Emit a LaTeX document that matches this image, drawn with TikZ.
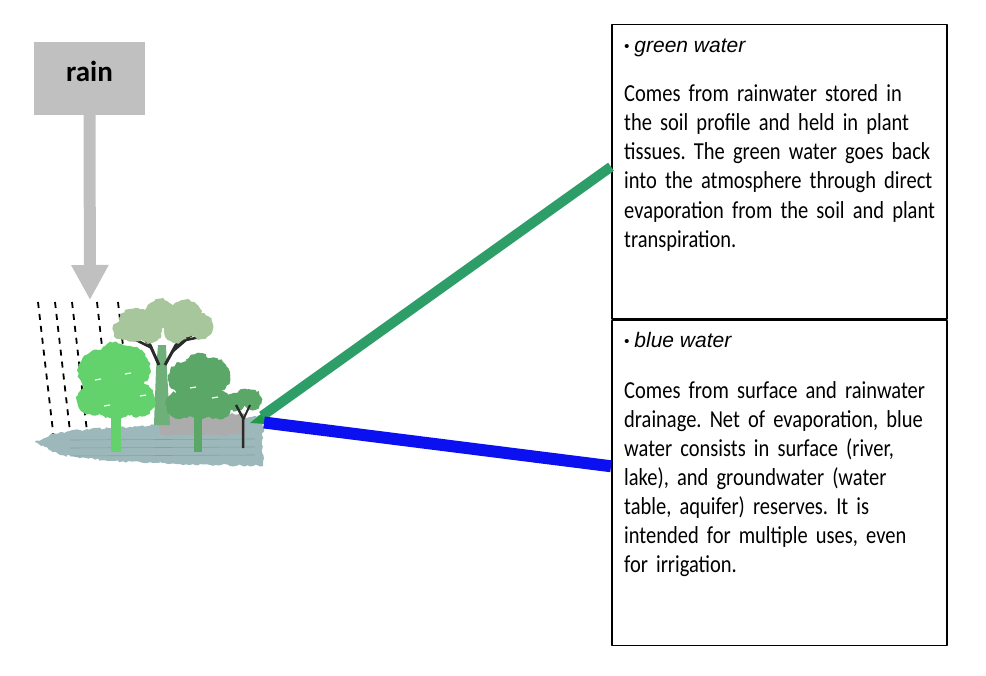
\documentclass[tikz,border=0pt]{standalone}
\usepackage{fontspec}
\setmainfont{Carlito}
\newfontfamily\arialfont{Liberation Sans}
\newfontfamily\bodyfont[FakeStretch=0.84,WordSpace=0.8]{Carlito}
\usetikzlibrary{arrows.meta,decorations.pathmorphing}
\definecolor{raingray}{HTML}{C0C0C0}
\definecolor{soil}{HTML}{9DB8BB}
\definecolor{soilline}{HTML}{86A1A4}
\definecolor{paleleaf}{HTML}{A7C69B}
\definecolor{lightleaf}{HTML}{63D26C}
\definecolor{darkleaf}{HTML}{5BA768}
\definecolor{trunkgreen}{HTML}{6FB07A}
\definecolor{bark}{HTML}{2A2A2A}
\definecolor{wedge}{HTML}{1F9A45}
\definecolor{greenline}{HTML}{2E9E68}
\definecolor{blueline}{HTML}{0A10F0}
\newcommand{\dotmark}{\raisebox{1bp}{\fontsize{15bp}{15bp}\selectfont •}\hspace{5bp}}
\frenchspacing
\begin{document}
\begin{tikzpicture}[x=1bp,y=-1bp, line join=round,
	rainbox/.style={fill=raingray, minimum width=111bp, minimum height=73bp, inner sep=0pt, text height=20bp, text depth=13bp, font=\fontsize{29bp}{29bp}\selectfont\bfseries},
	infobox/.style={draw, line width=1.5bp, anchor=north west, minimum width=335bp, inner sep=0pt},
	infotitle/.style={anchor=base west, inner sep=0pt, font=\arialfont\itshape\fontsize{21bp}{25bp}\selectfont},
	infotext/.style={anchor=base west, inner sep=0pt, text width=325bp, align=left, font=\bodyfont\fontsize{24.4bp}{29bp}\selectfont},
	crown/.style={decorate, decoration={random steps, segment length=2.5pt, amplitude=1.2pt}}]
	\useasboundingbox (0,0) rectangle (986,676);
	% rain
	\node[rainbox] (rain) at (89.5,78.5) {rain};
	\coordinate (raintip) at (90,300);
	\draw[raingray, line width=12bp, -{Triangle[length=35bp,width=35bp]}] (rain.south) -- (raintip);
	\foreach \xa/\xb/\yb in {38/54/440, 55/71/440, 72/88/440, 97/108/400, 118/128/390}
		\draw[line width=1.8bp, dash pattern=on 6bp off 6bp] (\xa,302) -- (\xb,\yb);
	% ground
	\fill[soil, crown] (35,442) -- (52,434) -- (80,430) -- (140,426) -- (200,422) -- (263,416) -- (263,466) -- (180,464) -- (110,461) -- (60,455) -- (45,447) -- cycle;
	\foreach \y in {440,448,456}
		\draw[soilline, line width=.6bp] (70,\y) -- (255,\y-1);
	\fill[gray!65, crown] (160,414) rectangle (245,435);
	% tall tree
	\fill[trunkgreen] (154,425) -- (156,370) -- (158,345) -- (166,345) -- (167,370) -- (170,425) -- cycle;
	\draw[bark, line width=3bp] (159,365) -- (150,345) -- (140,334);
	\draw[bark, line width=2.5bp] (152,348) -- (132,338);
	\draw[bark, line width=3bp] (165,365) -- (176,345) -- (193,334);
	\draw[bark, line width=2.5bp] (172,352) -- (186,340) -- (205,336);
	\foreach \c/\r in {(135,325)/17, (160,314)/15, (185,318)/18, (200,326)/13, (150,331)/12, (176,331)/12, (122,330)/9}
		\fill[paleleaf, crown] \c circle (\r);
	% left tree
	\fill[lightleaf] (111,410) rectangle (121,452);
	\foreach \c/\r in {(100,372)/22, (128,368)/22, (114,356)/14, (92,400)/15, (138,400)/17, (115,395)/24}
		\fill[lightleaf, crown] \c circle (\r);
	% middle tree
	\fill[darkleaf] (194,415) rectangle (202,452);
	\foreach \c/\r in {(184,378)/16, (212,376)/18, (198,366)/13, (180,405)/14, (218,405)/14, (199,397)/22}
		\fill[darkleaf, crown] \c circle (\r);
	\foreach \p in {(95,380),(125,374),(140,396),(104,406),(190,388),(212,398)}
		\draw[white, line width=1.2bp] \p -- ++(6,-1);
	% small tree
	\foreach \c/\r in {(236,402)/9, (252,400)/10, (245,397)/8}
		\fill[darkleaf, crown] \c circle (\r);
	\draw[bark, line width=2.5bp] (243,448) -- (243,418) -- (236,405);
	\draw[bark, line width=2bp] (243,420) -- (250,405);
	\fill[wedge] (250,423) -- (266,410) -- (266,424) -- cycle;
	% boxes
	\node[infobox, minimum height=294bp] (greenbox) at (611,24) {};
	\node[infobox, minimum height=325bp] (bluebox) at (greenbox.south west) {};
	\node[infotitle] (greentitle) at (624,53) {\dotmark green water};
	\node[infotext] (greentext) at (624,102) {Comes from rainwater stored in\\
		the soil profile and held in plant\\
		tissues. The green water goes back\\
		into the atmosphere through direct\\
		evaporation from the soil and plant\\
		transpiration.};
	\node[infotitle] (bluetitle) at (624,347) {\dotmark blue water};
	\node[infotext] (bluetext) at (624,398) {Comes from surface and rainwater\\
		drainage. Net of evaporation, blue\\
		water consists in surface (river,\\
		lake), and groundwater (water\\
		table, aquifer) reserves. It is\\
		intended for multiple uses, even\\
		for irrigation.};
	% water lines
	\coordinate (forestg) at (262,416);
	\coordinate (forestb) at (264,422.5);
	\draw[greenline, line width=10bp] (forestg) -- ([yshift=5bp]greenbox.west);
	\draw[blueline, line width=12bp] (forestb) -- ([yshift=16.5bp]bluebox.west);
\end{tikzpicture}
\end{document}
